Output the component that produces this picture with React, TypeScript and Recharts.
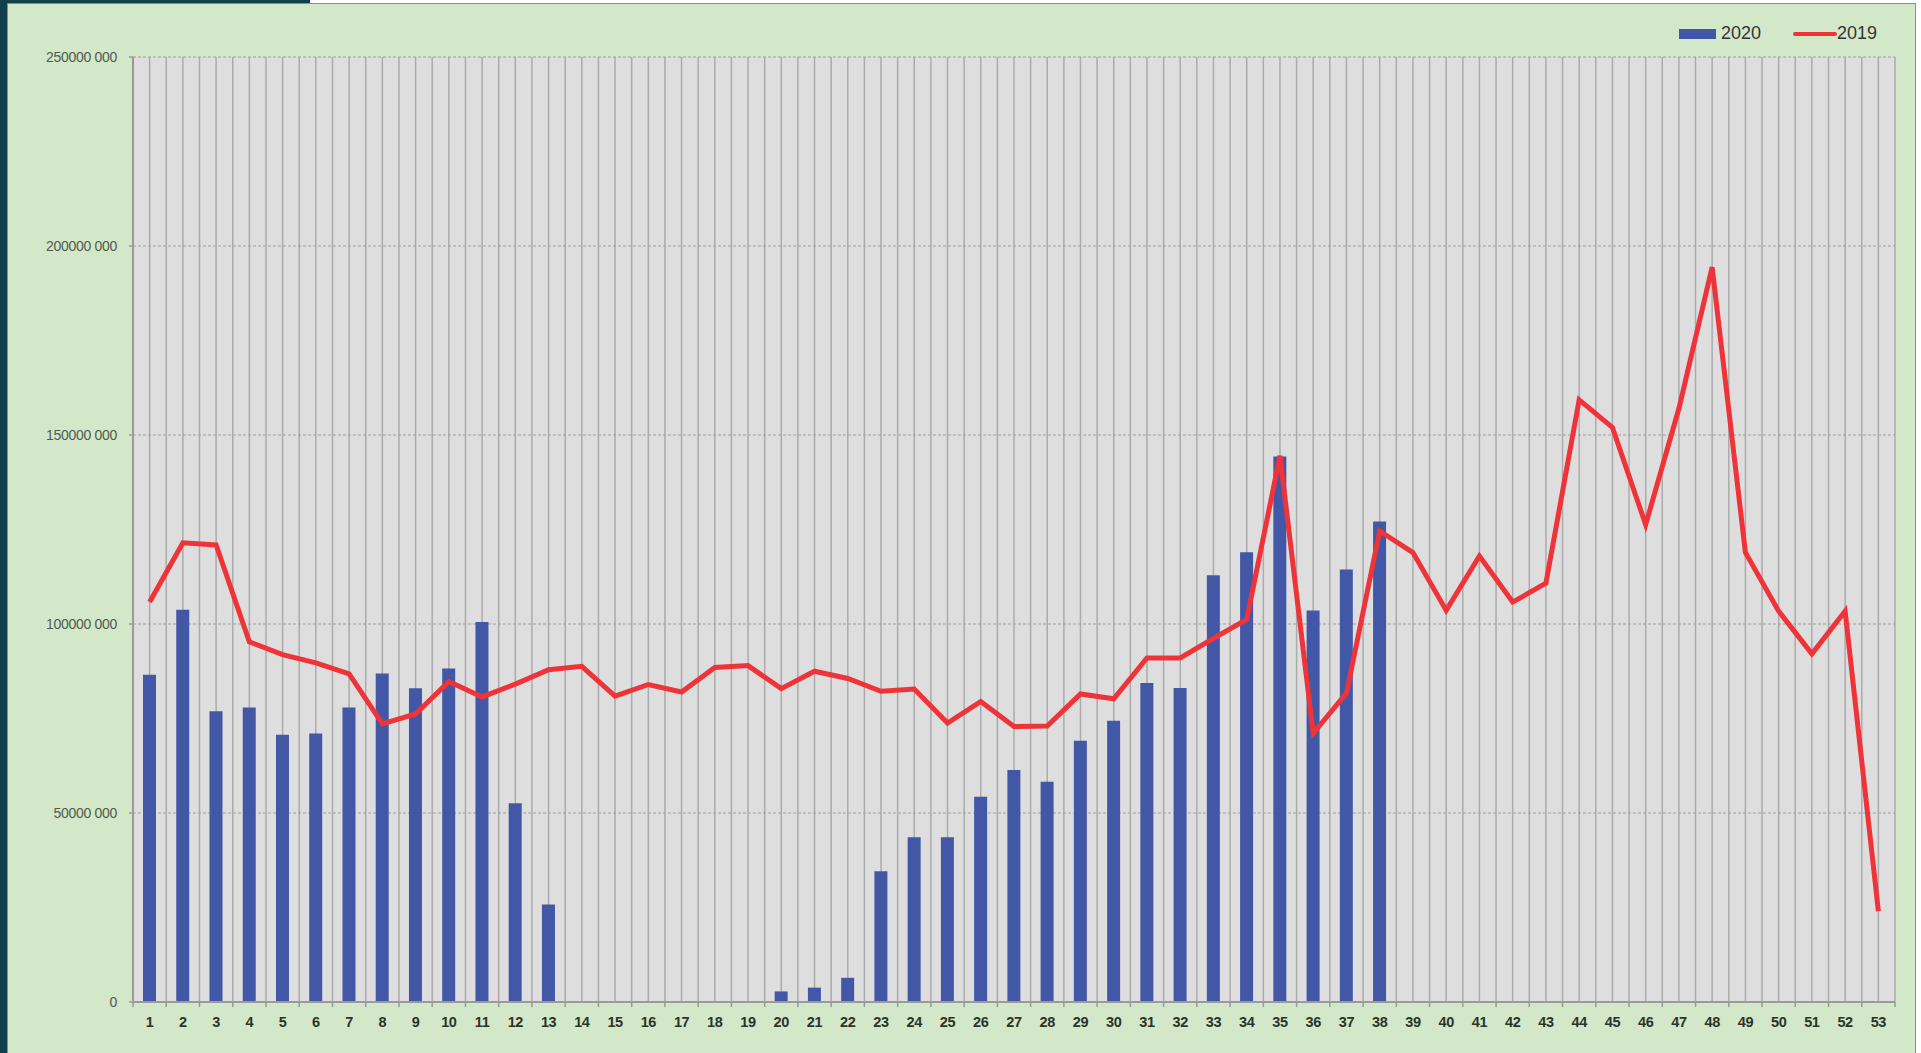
import React from 'react';
import { ComposedChart, Bar, Line, XAxis, YAxis, CartesianGrid } from 'recharts';

const weeks = [
  '1', '2', '3', '4', '5', '6', '7', '8', '9', '10',
  '11', '12', '13', '14', '15', '16', '17', '18', '19', '20',
  '21', '22', '23', '24', '25', '26', '27', '28', '29', '30',
  '31', '32', '33', '34', '35', '36', '37', '38', '39', '40',
  '41', '42', '43', '44', '45', '46', '47', '48', '49', '50',
  '51', '52', '53',
];

const series2020Name = '2020';
const series2019Name = '2019';

const values2020 = [
  86600000, 103800000, 76900000, 77900000, 70700000, 71000000, 77900000, 86900000, 83000000, 88200000,
  100500000, 52600000, 25800000, 0, 0, 0, 0, 0, 0, 2800000,
  3800000, 6400000, 34600000, 43600000, 43600000, 54300000, 61400000, 58300000, 69100000, 74400000,
  84400000, 83100000, 112900000, 119000000, 144300000, 103600000, 114400000, 127100000,
];

const values2019 = [
  105800000, 121500000, 120900000, 95300000, 91900000, 89700000, 86800000, 73600000, 76200000, 84800000,
  80700000, 84100000, 87900000, 88800000, 80900000, 84000000, 82000000, 88500000, 89000000, 82900000,
  87500000, 85600000, 82200000, 82800000, 73800000, 79500000, 72900000, 73000000, 81500000, 80200000,
  91000000, 91000000, 96200000, 101200000, 144500000, 71100000, 81700000, 124600000, 118900000, 103600000,
  118000000, 105800000, 110800000, 159300000, 152000000, 126300000, 157000000, 194400000, 118900000, 103400000,
  92100000, 103400000, 24000000,
];

const yTicks = [0, 50000000, 100000000, 150000000, 200000000, 250000000];

const data = weeks.map((w, i) => ({
  week: w,
  v2020: i < values2020.length ? values2020[i] : null,
  v2019: values2019[i],
}));

const BAR_COLOR = '#4357A7';
const LINE_COLOR = '#EE3438';
const FONT = '"Liberation Sans", Arial, sans-serif';

const formatY = (v: number) => {
  if (v === 0) return '0';
  const head = Math.floor(v / 1000);
  const tail = String(v % 1000).padStart(3, '0');
  return `${head} ${tail}`;
};

const XTick = (props: any) => {
  const { x, y, payload, index, visibleTicksCount } = props;
  const half = payload && payload.offset ? payload.offset : 0;
  const axisY = y - 16;
  return (
    <g>
      <line x1={x - half} x2={x - half} y1={axisY} y2={axisY + 5} stroke="#9a9a9a" strokeWidth={1.5} />
      {index === visibleTicksCount - 1 ? (
        <line x1={x + half} x2={x + half} y1={axisY} y2={axisY + 5} stroke="#9a9a9a" strokeWidth={1.5} />
      ) : null}
      <text
        x={x}
        y={y - 1}
        dy="0.71em"
        textAnchor="middle"
        fontFamily={FONT}
        fontSize={14.5}
        fontWeight="bold"
        letterSpacing={-0.4}
        fill="#2a352a"
      >
        {payload.value}
      </text>
    </g>
  );
};

const verticalLines = ({ offset }: any) => {
  const n = weeks.length * 2;
  const arr: number[] = [];
  for (let k = 0; k <= n; k++) arr.push(offset.left + (k * offset.width) / n);
  return arr;
};

export default function App() {
  return (
    <div
      style={{
        position: 'fixed',
        left: 0,
        top: 0,
        width: 1921,
        height: 1053,
        background: '#ffffff',
        overflow: 'hidden',
        fontFamily: FONT,
      }}
    >
      <div style={{ position: 'absolute', left: 0, top: 0, width: 7, height: 1053, background: '#123F4C' }} />
      <div style={{ position: 'absolute', left: 0, top: 0, width: 310, height: 3, background: '#123F4C' }} />
      <div
        style={{
          position: 'absolute',
          left: 7,
          top: 3,
          width: 1909,
          height: 1052,
          background: '#D3E8C8',
          border: '1px solid #8c8c8c',
          boxSizing: 'border-box',
        }}
      >
        <ComposedChart
          width={1907}
          height={1050}
          data={data}
          margin={{ top: 53, right: 20, bottom: 12, left: 0 }}
          barCategoryGap={0}
        >
          <CartesianGrid
            horizontal={false}
            vertical={true}
            fill="#DEDEDE"
            stroke="#ABABAB"
            strokeWidth={1.5}
            verticalCoordinatesGenerator={verticalLines}
          />
          <CartesianGrid horizontal={true} vertical={false} stroke="#A0A0A0" strokeDasharray="3 2" />
          <XAxis
            dataKey="week"
            interval={0}
            height={40}
            tickLine={false}
            tickSize={4}
            tickMargin={12}
            axisLine={{ stroke: '#9a9a9a', strokeWidth: 2 }}
            tick={<XTick />}
          />
          <YAxis
            width={125}
            domain={[0, 250000000]}
            ticks={yTicks}
            interval={0}
            tickFormatter={formatY}
            tickSize={4}
            tickMargin={12}
            axisLine={{ stroke: '#9a9a9a', strokeWidth: 2 }}
            tickLine={{ stroke: '#9a9a9a', strokeWidth: 1.5 }}
            tick={{ fill: '#505a50', fontSize: 14, fontFamily: FONT, letterSpacing: -0.3 }}
          />
          <Bar dataKey="v2020" name={series2020Name} fill={BAR_COLOR} barSize={13} isAnimationActive={false} />
          <Line
            dataKey="v2019"
            name={series2019Name}
            type="linear"
            stroke={LINE_COLOR}
            strokeWidth={5}
            dot={false}
            activeDot={false}
            isAnimationActive={false}
          />
        </ComposedChart>
        <div
          style={{
            position: 'absolute',
            left: 1671,
            top: 19,
            display: 'flex',
            alignItems: 'center',
            fontSize: 18,
            color: '#333333',
            fontFamily: FONT,
            whiteSpace: 'nowrap',
          }}
        >
          <span style={{ display: 'inline-block', width: 37, height: 10, background: BAR_COLOR, marginRight: 5 }} />
          <span>{series2020Name}</span>
          <span
            style={{
              display: 'inline-block',
              width: 44,
              height: 4,
              borderRadius: 2,
              background: LINE_COLOR,
              marginLeft: 32,
            }}
          />
          <span>{series2019Name}</span>
        </div>
      </div>
    </div>
  );
}
